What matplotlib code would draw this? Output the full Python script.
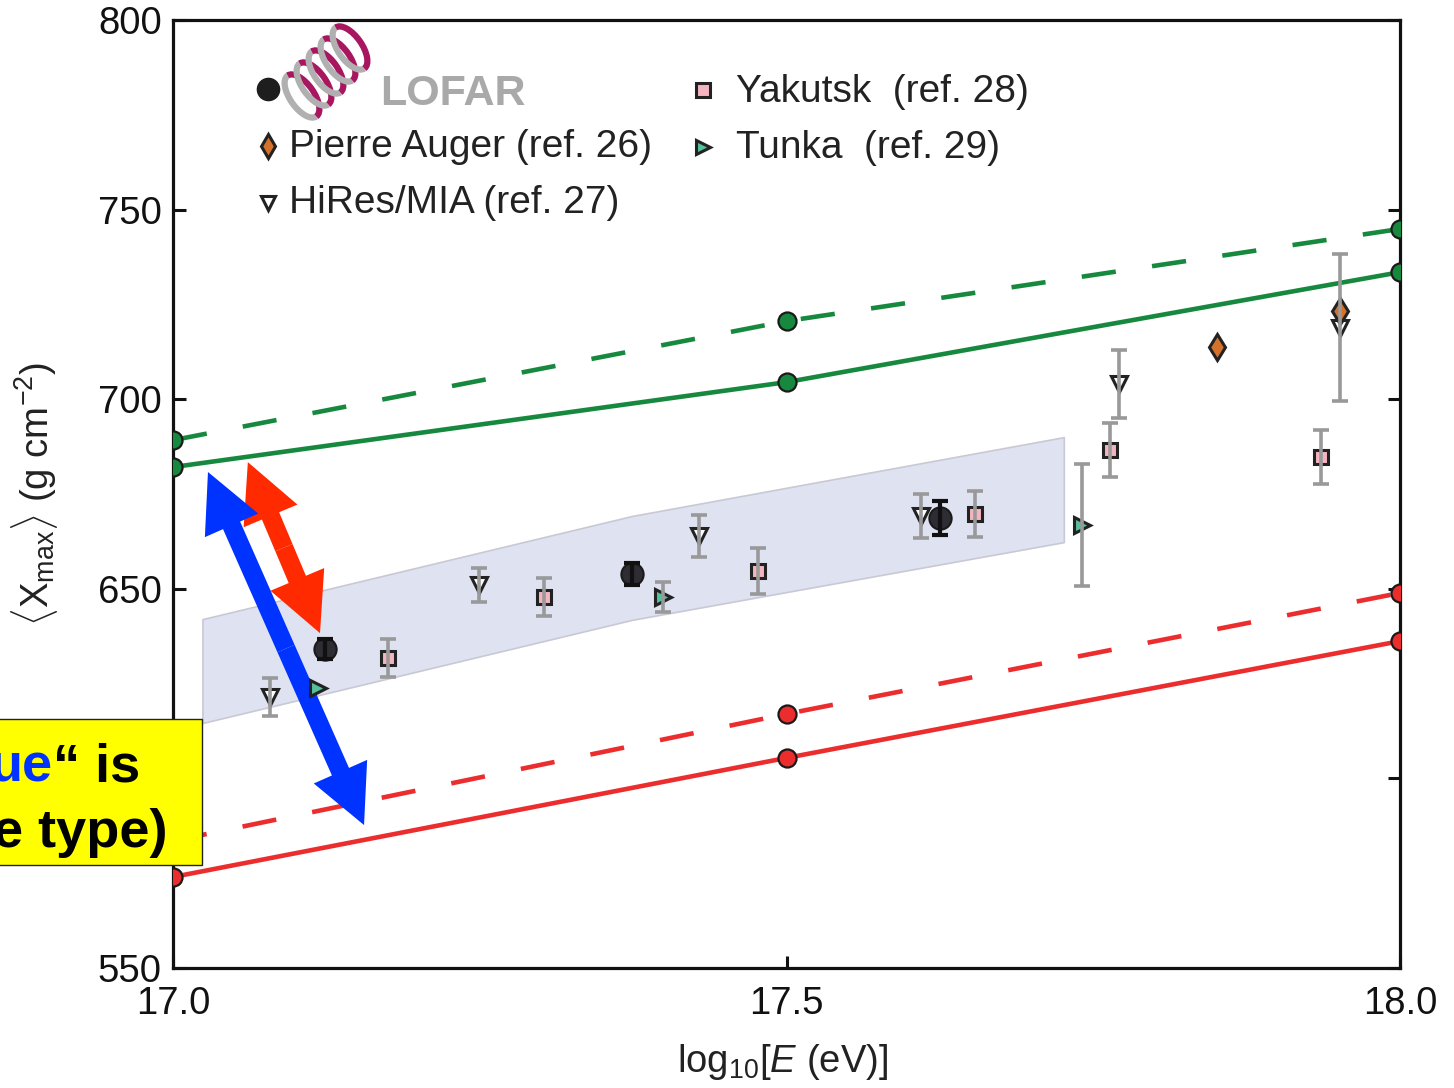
import numpy as np
import matplotlib
matplotlib.use("Agg")
import matplotlib.pyplot as plt
from matplotlib.patches import Rectangle, Arc
from matplotlib.lines import Line2D
from matplotlib.transforms import IdentityTransform

plt.rcParams['font.family'] = ['Liberation Sans', 'DejaVu Sans']
plt.rcParams['mathtext.fontset'] = 'custom'
plt.rcParams['mathtext.rm'] = 'Liberation Sans'
plt.rcParams['mathtext.it'] = 'Liberation Sans:italic'
plt.rcParams['mathtext.bf'] = 'Liberation Sans:bold'

# ---------------- data ----------------
model_energy = [17.0, 17.5, 18.0]
proton_dashed = [689.2, 720.6, 744.9]
proton_solid = [682.1, 704.5, 733.5]
iron_dashed = [583.5, 617.0, 648.9]
iron_solid = [574.0, 605.4, 636.2]

band_energy = [17.024, 17.374, 17.726]
band_upper = [642.0, 669.2, 690.0]
band_lower = [614.6, 641.8, 662.3]

lofar_x = [17.124, 17.374, 17.625]
lofar_y = [634.1, 653.9, 668.7]
lofar_err = [2.6, 2.9, 4.4]

auger_x = [17.851, 17.951]
auger_y = [713.8, 723.3]

hires_x = [17.079, 17.249, 17.429, 17.610, 17.771, 17.951]
hires_y = [621.5, 651.0, 664.0, 669.2, 704.0, 718.8]
hires_err = [5.1, 4.6, 5.5, 5.7, 9.0, 19.4]

yak_x = [17.175, 17.302, 17.477, 17.654, 17.764, 17.936]
yak_y = [631.8, 647.8, 654.7, 669.7, 686.6, 684.8]
yak_err = [5.0, 5.0, 6.0, 6.0, 7.0, 7.1]

tunka_x = [17.118, 17.399, 17.741]
tunka_y = [623.8, 647.8, 666.8]
tunka_err = [0.0, 4.0, 16.1]

x_ticks = [17.0, 17.5, 18.0]
x_ticklabels = ['17.0', '17.5', '18.0']
y_ticks = [550, 600, 650, 700, 750, 800]
# the 600 label is hidden behind the yellow box in the reference
y_ticklabels = ['550', '', '650', '700', '750', '800']

# arrows (tips, in data coordinates)
red_arrow = [(17.061, 683.4), (17.1198, 638.3)]
blue_arrow = [(17.0285, 680.8), (17.1557, 587.7)]

# ---------------- figure ----------------
W, H = 1454, 1088
fig = plt.figure(figsize=(W / 100, H / 100), dpi=100)
ax = fig.add_axes([173 / W, 1 - 968 / H, 1227 / W, 948 / H])
ax.set_xlim(17.0, 18.0)
ax.set_ylim(550, 800)

GREEN = '#17893f'
RED = '#ec2d2d'

# band
ax.fill_between(band_energy, band_lower, band_upper, facecolor='#dfe2f1',
                edgecolor='#c8c9d4', linewidth=1.2, zorder=1)

# model lines
ax.plot(model_energy, proton_dashed, color=GREEN, lw=3.3, dashes=(7.5, 8.0), zorder=2)
ax.plot(model_energy, proton_solid, color=GREEN, lw=3.3, zorder=2)
ax.plot(model_energy, iron_dashed, color=RED, lw=3.3, dashes=(7.5, 8.0), zorder=2)
ax.plot(model_energy, iron_solid, color=RED, lw=3.3, zorder=2)
for ys, c in [(proton_dashed, GREEN), (proton_solid, GREEN), (iron_dashed, RED), (iron_solid, RED)]:
    ax.plot(model_energy, ys, ls='none', marker='o', ms=13, mfc=c, mec='#1a1a1a',
            mew=1.6, zorder=3)

# arrows
def double_arrow(p1, p2, color):
    mid = ((p1[0] + p2[0]) / 2, (p1[1] + p2[1]) / 2)
    for tip in (p1, p2):
        ax.annotate('', xy=tip, xytext=mid,
                    arrowprops=dict(arrowstyle='simple,head_length=1,head_width=1,tail_width=0.32',
                                    mutation_scale=42, facecolor=color, edgecolor='none',
                                    lw=0, shrinkA=0, shrinkB=0),
                    zorder=4)

double_arrow(*red_arrow, '#ff2a00')
double_arrow(*blue_arrow, '#0033ff')

# data markers
GRAY = '#999999'
ax.plot(yak_x, yak_y, ls='none', marker='s', ms=10.5, mfc='#f4b4c0', mec='#222222', mew=2.2, zorder=5)
ax.errorbar(yak_x, yak_y, yerr=yak_err, fmt='none', ecolor=GRAY, elinewidth=2.6,
            capsize=6, capthick=2.6, zorder=6)

ax.plot(hires_x, hires_y, ls='none', marker='v', ms=11, mfc='white', mec='#222222', mew=2.2, zorder=5)
ax.errorbar(hires_x, hires_y, yerr=hires_err, fmt='none', ecolor=GRAY, elinewidth=2.6,
            capsize=6, capthick=2.6, zorder=6)

ax.plot(tunka_x, tunka_y, ls='none', marker='>', ms=11, mfc='#55c09c', mec='#222222', mew=2.2, zorder=5)
tx = np.array(tunka_x); ty = np.array(tunka_y); te = np.array(tunka_err)
m = te > 0
ax.errorbar(tx[m], ty[m], yerr=te[m], fmt='none', ecolor=GRAY, elinewidth=2.6,
            capsize=6, capthick=2.6, zorder=6)

ax.plot(auger_x, auger_y, ls='none', marker='d', ms=13.5, mfc='#d4722c', mec='#222222', mew=2.2, zorder=5)

ax.plot(lofar_x, lofar_y, ls='none', marker='o', ms=16, mfc='#2d2d33', mec='#1a1a1a', mew=1.5, zorder=7)
ax.errorbar(lofar_x, lofar_y, yerr=lofar_err, fmt='none', ecolor='#111111', elinewidth=3,
            capsize=6, capthick=3, zorder=8)

# axes styling
ax.set_xticks(x_ticks)
ax.set_xticklabels(x_ticklabels)
ax.set_yticks(y_ticks)
ax.set_yticklabels(y_ticklabels)
ax.tick_params(axis='both', direction='in', length=9, width=2.2, labelsize=27.5,
               colors='#111111')
ax.tick_params(axis='x', pad=13)
ax.tick_params(axis='y', pad=8, right=True)
for sp in ax.spines.values():
    sp.set_linewidth(2.3)
    sp.set_color('#111111')

ax.set_xlabel(r'log$_{10}$[$E$ (eV)]', fontsize=27.5, color='#222222')
ax.set_ylabel(r'$\langle\mathrm{X}_{\mathrm{max}}\rangle$ (g cm$^{-2}$)', fontsize=27.5, color='#222222')
ax.xaxis.set_label_coords(0.497, -0.078)
ax.yaxis.set_label_coords(-0.092, 0.5)

# ---------------- legend (manual) ----------------
def fx(px):
    return px / W

def fy(py):
    return 1 - py / H

def leg_marker(px, py, **kw):
    fig.add_artist(Line2D([fx(px)], [fy(py)], transform=fig.transFigure, ls='none', **kw))

def leg_text(px, py, s, **kw):
    fig.text(fx(px), fy(py), s, ha='left', va='baseline', **kw)

LEG_FS = 28
leg_marker(268, 89, marker='o', ms=16, mfc='#1e1e1e', mec='#1e1e1e')
leg_text(380, 105, 'LOFAR', fontsize=31, weight='bold', color='#a9a9a9')
leg_marker(268, 146, marker='d', ms=12.5, mfc='#d4722c', mec='#222222', mew=2.2)
leg_text(289, 157, 'Pierre Auger (ref. 26)', fontsize=LEG_FS, color='#222222')
leg_marker(268, 203, marker='v', ms=10, mfc='white', mec='#222222', mew=2.2)
leg_text(289, 213, 'HiRes/MIA (ref. 27)', fontsize=LEG_FS, color='#222222')
leg_marker(703, 90, marker='s', ms=10.5, mfc='#f4b4c0', mec='#222222', mew=2.2)
leg_text(736, 102, 'Yakutsk  (ref. 28)', fontsize=LEG_FS, color='#222222')
leg_marker(703, 147, marker='>', ms=9.5, mfc='#55c09c', mec='#222222', mew=2.2)
leg_text(736, 158, 'Tunka  (ref. 29)', fontsize=LEG_FS, color='#222222')

# LOFAR logo (simplified helix)
ident = IdentityTransform()
start = np.array([302.0, 96.0])
end = np.array([350.0, 48.0])
for k in range(5):
    t = k / 4
    cpx = start + (end - start) * t
    cx, cy = cpx[0], H - cpx[1]
    fig.add_artist(Arc((cx, cy), 50, 24, angle=125, theta1=0, theta2=180,
                       transform=ident, color='#b0b0b0', lw=4.5))
    fig.add_artist(Arc((cx, cy), 50, 24, angle=125, theta1=180, theta2=360,
                       transform=ident, color='#a8165f', lw=4.5))

# ---------------- yellow box ----------------
BOX_FS = 39
fig.add_artist(Rectangle((-0.05, fy(865)), 0.05 + fx(202), fy(719) - fy(865),
                         transform=fig.transFigure, facecolor='#ffff00',
                         edgecolor='#222222', lw=1.0, zorder=20))
t1 = fig.text(fx(140), fy(782), '\u201c is', ha='right', va='baseline', fontsize=BOX_FS,
              weight='bold', color='black', zorder=21)
fig.text(fx(168), fy(847), 'e type)', ha='right', va='baseline', fontsize=BOX_FS,
         weight='bold', color='black', zorder=21)
fig.canvas.draw()
bb = t1.get_window_extent()
fig.text(bb.x0 / fig.bbox.width, fy(782), 'ue', ha='right', va='baseline', fontsize=BOX_FS,
         weight='bold', color='#0033ff', zorder=21)

fig.savefig('out.png', dpi=100)
